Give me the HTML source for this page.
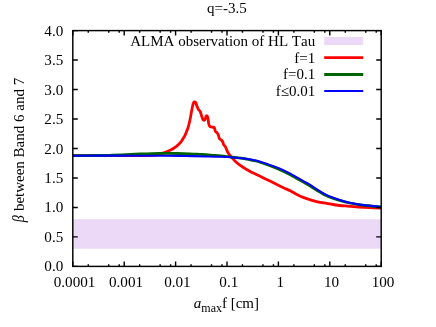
<!DOCTYPE html>
<html><head><meta charset="utf-8"><style>
html,body{margin:0;padding:0;background:#fff;}
svg{display:block;will-change:transform;}
text{font-kerning:none;font-family:"Liberation Serif",serif;font-size:15.15px;fill:#000;}
</style></head><body>
<svg width="436" height="327" viewBox="0 0 436 327">
<rect width="436" height="327" fill="#fff"/>

<rect x="72.8" y="219.2" width="308.4" height="29.5" fill="#ecd9f7"/>
<rect x="324.2" y="37" width="39" height="8" fill="#ecd9f7"/>
<g fill="none" stroke-linejoin="round" stroke-linecap="butt">
<path d="M72.80,155.70 C80.67,155.70 108.80,155.72 120.00,155.70 C131.20,155.68 134.17,155.72 140.00,155.60 C145.83,155.48 151.67,155.27 155.00,155.00 C158.33,154.73 158.53,154.35 160.00,154.00 C161.47,153.65 162.03,153.55 163.80,152.90 C165.57,152.25 168.50,151.18 170.60,150.10 C172.70,149.02 174.67,147.78 176.40,146.40 C178.13,145.02 179.67,143.45 181.00,141.80 C182.33,140.15 183.65,137.78 184.40,136.50 C185.15,135.22 184.92,135.52 185.50,134.10 C186.08,132.68 187.18,130.23 187.90,128.00 C188.62,125.77 189.25,123.15 189.80,120.70 C190.35,118.25 190.73,115.75 191.20,113.30 C191.67,110.85 192.18,107.80 192.60,106.00 C193.02,104.20 193.35,103.20 193.70,102.50 C194.05,101.80 194.33,101.73 194.70,101.80 C195.07,101.87 195.50,102.10 195.90,102.90 C196.30,103.70 196.65,105.47 197.10,106.60 C197.55,107.73 198.08,108.88 198.60,109.70 C199.12,110.52 199.73,110.58 200.20,111.50 C200.67,112.42 201.00,113.98 201.40,115.20 C201.80,116.42 202.15,117.93 202.60,118.80 C203.05,119.67 203.65,120.40 204.10,120.40 C204.55,120.40 204.98,119.50 205.30,118.80 C205.62,118.10 205.70,116.68 206.00,116.20 C206.30,115.72 206.75,115.47 207.10,115.90 C207.45,116.33 207.85,117.60 208.10,118.80 C208.35,120.00 208.33,121.87 208.60,123.10 C208.87,124.33 209.08,125.53 209.70,126.20 C210.32,126.87 211.52,126.83 212.30,127.10 C213.08,127.37 213.88,127.08 214.40,127.80 C214.92,128.52 214.92,130.53 215.40,131.40 C215.88,132.27 216.78,132.30 217.30,133.00 C217.82,133.70 218.12,134.65 218.50,135.60 C218.88,136.55 219.08,137.92 219.60,138.70 C220.12,139.48 221.05,139.70 221.60,140.30 C222.15,140.90 222.55,141.53 222.90,142.30 C223.25,143.07 223.30,144.20 223.70,144.90 C224.10,145.60 224.78,145.63 225.30,146.50 C225.82,147.37 226.28,148.97 226.80,150.10 C227.32,151.23 227.77,152.28 228.40,153.30 C229.03,154.32 229.47,154.88 230.60,156.20 C231.73,157.52 233.47,159.58 235.20,161.20 C236.93,162.82 239.08,164.52 241.00,165.90 C242.92,167.28 245.03,168.50 246.70,169.50 C248.37,170.50 249.47,171.12 251.00,171.90 C252.53,172.68 254.07,173.32 255.90,174.20 C257.73,175.08 260.10,176.27 262.00,177.20 C263.90,178.13 265.47,178.90 267.30,179.80 C269.13,180.70 271.08,181.65 273.00,182.60 C274.92,183.55 276.88,184.57 278.80,185.50 C280.72,186.43 282.58,187.32 284.50,188.20 C286.42,189.08 288.23,189.75 290.30,190.80 C292.37,191.85 294.65,193.37 296.90,194.50 C299.15,195.63 301.52,196.70 303.80,197.60 C306.08,198.50 308.32,199.20 310.60,199.90 C312.88,200.60 314.82,201.22 317.50,201.80 C320.18,202.38 323.63,202.87 326.70,203.40 C329.77,203.93 332.47,204.55 335.90,205.00 C339.33,205.45 343.48,205.77 347.30,206.10 C351.12,206.43 354.97,206.73 358.80,207.00 C362.63,207.27 366.60,207.50 370.30,207.70 C374.00,207.90 379.22,208.12 381.00,208.20" stroke="#ff0000" stroke-width="2.8"/>
<path d="M72.80,155.60 C77.33,155.58 93.47,155.57 100.00,155.50 C106.53,155.43 107.67,155.35 112.00,155.20 C116.33,155.05 121.33,154.80 126.00,154.60 C130.67,154.40 135.67,154.17 140.00,154.00 C144.33,153.83 147.67,153.70 152.00,153.60 C156.33,153.50 161.67,153.42 166.00,153.40 C170.33,153.38 174.00,153.42 178.00,153.50 C182.00,153.58 186.33,153.75 190.00,153.90 C193.67,154.05 197.33,154.27 200.00,154.40 C202.67,154.53 203.50,154.53 206.00,154.70 C208.50,154.87 211.83,155.13 215.00,155.40 C218.17,155.67 221.67,155.97 225.00,156.30 C228.33,156.63 231.77,157.00 235.00,157.40 C238.23,157.80 240.92,158.10 244.40,158.70 C247.88,159.30 252.08,160.00 255.90,161.00 C259.72,162.00 263.48,163.33 267.30,164.70 C271.12,166.07 274.97,167.52 278.80,169.20 C282.63,170.88 287.28,173.25 290.30,174.80 C293.32,176.35 294.65,177.23 296.90,178.50 C299.15,179.77 301.52,181.10 303.80,182.40 C306.08,183.70 308.32,184.92 310.60,186.30 C312.88,187.68 315.20,189.30 317.50,190.70 C319.80,192.10 322.10,193.53 324.40,194.70 C326.70,195.87 328.62,196.70 331.30,197.70 C333.98,198.70 337.45,199.82 340.50,200.70 C343.55,201.58 346.55,202.35 349.60,203.00 C352.65,203.65 355.73,204.15 358.80,204.60 C361.87,205.05 364.30,205.30 368.00,205.70 C371.70,206.10 378.83,206.78 381.00,207.00" stroke="#006400" stroke-width="2.8"/>
<path d="M72.80,155.65 C84.00,155.65 124.47,155.64 140.00,155.65 C155.53,155.66 158.33,155.64 166.00,155.70 C173.67,155.76 179.33,155.88 186.00,156.00 C192.67,156.12 200.08,156.27 206.00,156.40 C211.92,156.53 217.02,156.63 221.50,156.80 C225.98,156.97 229.08,157.10 232.90,157.40 C236.72,157.70 240.57,158.07 244.40,158.60 C248.23,159.13 252.08,159.70 255.90,160.60 C259.72,161.50 263.48,162.75 267.30,164.00 C271.12,165.25 274.97,166.50 278.80,168.10 C282.63,169.70 287.28,172.05 290.30,173.60 C293.32,175.15 294.65,176.12 296.90,177.40 C299.15,178.68 301.52,180.00 303.80,181.30 C306.08,182.60 308.32,183.80 310.60,185.20 C312.88,186.60 315.20,188.27 317.50,189.70 C319.80,191.13 322.10,192.58 324.40,193.80 C326.70,195.02 328.62,195.93 331.30,197.00 C333.98,198.07 337.45,199.25 340.50,200.20 C343.55,201.15 346.55,202.00 349.60,202.70 C352.65,203.40 355.73,203.93 358.80,204.40 C361.87,204.87 364.30,205.08 368.00,205.50 C371.70,205.92 378.83,206.67 381.00,206.90" stroke="#0000ff" stroke-width="2.05"/>
<path d="M324.2,57.6 h39" stroke="#ff0000" stroke-width="2.8"/>
<path d="M324.2,74.5 h39" stroke="#006400" stroke-width="2.8"/>
<path d="M324.2,91 h39" stroke="#0000ff" stroke-width="2.2"/>
</g>
<g stroke="#000" stroke-width="1.4" fill="none">
<path d="M72.80,266.4 v-5.0 M72.80,30.6 v5.0"/><path d="M88.27,266.4 v-2.1 M88.27,30.6 v2.1"/><path d="M108.73,266.4 v-2.1 M108.73,30.6 v2.1"/><path d="M119.22,266.4 v-2.1 M119.22,30.6 v2.1"/><path d="M124.20,266.4 v-5.0 M124.20,30.6 v5.0"/><path d="M139.67,266.4 v-2.1 M139.67,30.6 v2.1"/><path d="M160.13,266.4 v-2.1 M160.13,30.6 v2.1"/><path d="M170.62,266.4 v-2.1 M170.62,30.6 v2.1"/><path d="M175.60,266.4 v-5.0 M175.60,30.6 v5.0"/><path d="M191.07,266.4 v-2.1 M191.07,30.6 v2.1"/><path d="M211.53,266.4 v-2.1 M211.53,30.6 v2.1"/><path d="M222.02,266.4 v-2.1 M222.02,30.6 v2.1"/><path d="M227.00,266.4 v-5.0 M227.00,30.6 v5.0"/><path d="M242.47,266.4 v-2.1 M242.47,30.6 v2.1"/><path d="M262.93,266.4 v-2.1 M262.93,30.6 v2.1"/><path d="M273.42,266.4 v-2.1 M273.42,30.6 v2.1"/><path d="M278.40,266.4 v-5.0 M278.40,30.6 v5.0"/><path d="M293.87,266.4 v-2.1 M293.87,30.6 v2.1"/><path d="M314.33,266.4 v-2.1 M314.33,30.6 v2.1"/><path d="M324.82,266.4 v-2.1 M324.82,30.6 v2.1"/><path d="M329.80,266.4 v-5.0 M329.80,30.6 v5.0"/><path d="M345.27,266.4 v-2.1 M345.27,30.6 v2.1"/><path d="M365.73,266.4 v-2.1 M365.73,30.6 v2.1"/><path d="M376.22,266.4 v-2.1 M376.22,30.6 v2.1"/><path d="M381.20,266.4 v-5.0 M381.20,30.6 v5.0"/><path d="M72.8,266.40 h5.0 M381.2,266.40 h-5.0"/><path d="M72.8,236.92 h5.0 M381.2,236.92 h-5.0"/><path d="M72.8,207.45 h5.0 M381.2,207.45 h-5.0"/><path d="M72.8,177.97 h5.0 M381.2,177.97 h-5.0"/><path d="M72.8,148.50 h5.0 M381.2,148.50 h-5.0"/><path d="M72.8,119.02 h5.0 M381.2,119.02 h-5.0"/><path d="M72.8,89.55 h5.0 M381.2,89.55 h-5.0"/><path d="M72.8,60.07 h5.0 M381.2,60.07 h-5.0"/><path d="M72.8,30.60 h5.0 M381.2,30.60 h-5.0"/>
</g>
<rect x="72.8" y="30.6" width="308.4" height="235.8" fill="none" stroke="#000" stroke-width="1.45"/>
<g style="mix-blend-mode:multiply">
<text x="226.8" y="13.3" text-anchor="middle" style="font-size:15px">q=-3.5</text>
<text x="74.6" y="286.8" text-anchor="middle">0.0001</text><text x="126.0" y="286.8" text-anchor="middle">0.001</text><text x="177.4" y="286.8" text-anchor="middle">0.01</text><text x="228.8" y="286.8" text-anchor="middle">0.1</text><text x="280.2" y="286.8" text-anchor="middle">1</text><text x="331.6" y="286.8" text-anchor="middle">10</text><text x="383.0" y="286.8" text-anchor="middle">100</text>
<text x="63.3" y="271.4" text-anchor="end">0.0</text><text x="63.3" y="241.9" text-anchor="end">0.5</text><text x="63.3" y="212.4" text-anchor="end">1.0</text><text x="63.3" y="183.0" text-anchor="end">1.5</text><text x="63.3" y="153.5" text-anchor="end">2.0</text><text x="63.3" y="124.0" text-anchor="end">2.5</text><text x="63.3" y="94.5" text-anchor="end">3.0</text><text x="63.3" y="65.1" text-anchor="end">3.5</text><text x="63.3" y="35.6" text-anchor="end">4.0</text>
<text x="315.2" y="46" text-anchor="end" style="font-size:15px">ALMA observation of HL Tau</text>
<text x="315.2" y="62.6" text-anchor="end" style="font-size:15px">f=1</text>
<text x="315.2" y="79.3" text-anchor="end" style="font-size:15px">f=0.1</text>
<text x="315.2" y="96" text-anchor="end" style="font-size:15px">f≤0.01</text>
<text x="193.8" y="308.4" style="font-size:15px"><tspan font-style="italic">a</tspan><tspan style="font-size:12px" dy="3.2">max</tspan><tspan dy="-3.2">f [cm]</tspan></text>
<text transform="translate(23.7,222.3) rotate(-90)" style="font-size:15px"><tspan font-style="italic" style="font-size:16px" textLength="7" lengthAdjust="spacingAndGlyphs">β</tspan><tspan x="11.2">between Band 6 and 7</tspan></text>
</g>
</svg>
</body></html>
